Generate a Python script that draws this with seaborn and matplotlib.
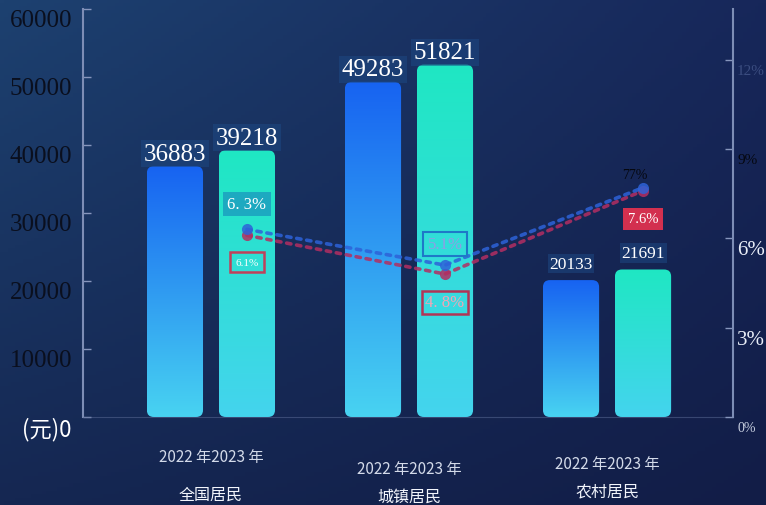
import numpy as np
import pandas as pd
import matplotlib
matplotlib.use("Agg")
import matplotlib.pyplot as plt
import matplotlib.transforms as mtransforms
from matplotlib.colors import LinearSegmentedColormap
from matplotlib.patches import FancyBboxPatch
import seaborn as sns

# data
categories = ["全国居民", "城镇居民", "农村居民"]
years = ["2022 年", "2023 年"]
income_2022 = [36883, 49283, 20133]
income_2023 = [39218, 51821, 21691]
nominal_growth = [6.3, 5.1, 7.7]
real_growth = [6.1, 4.8, 7.6]
nominal_labels = ["6. 3%", "5.1%", "77%"]
real_labels = ["6.1%", "4. 8%", "7.6%"]
left_ticks = [0, 10000, 20000, 30000, 40000, 50000, 60000]
left_tick_labels = ["(元)0", "10000", "20000", "30000", "40000", "50000", "60000"]
right_ticks = [0, 3, 6, 9, 12]
right_tick_labels = ["0%", "3%", "6%", "9%", "12%"]
year_caption = "2022 年2023 年"

df = pd.DataFrame({
    "group": categories * 2,
    "year": [years[0]] * 3 + [years[1]] * 3,
    "income": income_2022 + income_2023,
})

sns.set_style("white")
plt.rcParams["font.family"] = ["Liberation Serif", "Noto Sans CJK SC", "DejaVu Sans"]
cjk = ["Noto Sans CJK SC", "DejaVu Sans"]

W, H = 766, 506
fig = plt.figure(figsize=(W / 100, H / 100), dpi=100)

# background gradient
bg = fig.add_axes([0, 0, 1, 1], zorder=-1)
c_tl = np.array([0x1d, 0x41, 0x70]) / 255
c_tr = np.array([0x17, 0x27, 0x5a]) / 255
c_bl = np.array([0x15, 0x27, 0x52]) / 255
c_br = np.array([0x12, 0x1d, 0x47]) / 255
u = np.linspace(0, 1, 200)[None, :, None]
v = np.linspace(0, 1, 140)[:, None, None]
img = (1 - v) * ((1 - u) * c_tl + u * c_tr) + v * ((1 - u) * c_bl + u * c_br)
bg.imshow(img, aspect="auto", extent=[0, 1, 0, 1])
bg.axis("off")

ax = fig.add_axes([83 / W, 88 / H, 650 / W, 408 / H])
ax.set_facecolor("none")
sns.barplot(data=df, x="group", y="income", hue="year", order=categories,
            hue_order=years, width=0.727, gap=0.22, palette=["#1763f2", "#1fe7c3"],
            saturation=1, errorbar=None, legend=False, ax=ax)
xlim = (-0.646, 2.636)
ax.set_xlim(*xlim)
ax.set_ylim(0, 60000)

# gradient fill + rounded corners for each bar
fig.canvas.draw()
p0 = ax.transData.transform((0, 0))
p1 = ax.transData.transform((1, 1))
px_x, px_y = p1[0] - p0[0], p1[1] - p0[1]
aspect = px_x / px_y
grad_colors = [("#48d3f1", "#1763f2"), ("#44d4ee", "#1fe7c3")]
grad = np.linspace(0, 1, 256).reshape(-1, 1)
for h, container in enumerate(ax.containers):
    cmap = LinearSegmentedColormap.from_list(f"bar{h}", grad_colors[h])
    for patch in container.patches:
        x0, w, hgt = patch.get_x(), patch.get_width(), patch.get_height()
        patch.set_visible(False)
        clip = FancyBboxPatch((x0, 0), w, hgt, boxstyle="round,pad=0,rounding_size=0.035",
                              mutation_aspect=aspect, facecolor="none", edgecolor="none")
        ax.add_patch(clip)
        im = ax.imshow(grad, cmap=cmap, extent=[x0, x0 + w, 0, hgt], origin="lower",
                       aspect="auto", zorder=2)
        im.set_clip_path(clip)
ax.set_xlim(*xlim)
ax.set_ylim(0, 60000)

# value labels above bars
for h, container in enumerate(ax.containers):
    texts = ax.bar_label(container, labels=[str(int(v)) for v in container.datavalues],
                         padding=1, color="white", fontsize=18, zorder=3,
                         bbox=dict(boxstyle="square,pad=0.1", fc="#1d4a86", ec="none", alpha=0.5))
    texts[2].set_fontsize(12.5)
    texts[2].xyann = (0, 6)

# axes styling
ax.set_xticks([])
ax.set_xlabel("")
ax.set_ylabel("")
ax.set_yticks(left_ticks, left_tick_labels)
ax.tick_params(axis="y", direction="in", length=6, width=1, color="#8796bd", pad=8)
shift = mtransforms.ScaledTranslation(0, -9 / 100, fig.dpi_scale_trans)
for i, lbl in enumerate(ax.get_yticklabels()):
    lbl.set_transform(lbl.get_transform() + shift)
    lbl.set_fontsize(18)
    lbl.set_color("#0a0f1e")
    if i == 0:
        lbl.set_color("white")
        lbl.set_family(cjk)
        lbl.set_fontstyle("italic")
        lbl.set_fontsize(16)
for side in ["top", "right"]:
    ax.spines[side].set_visible(False)
ax.spines["left"].set_color("#7d8db5")
ax.spines["left"].set_linewidth(1.5)
ax.spines["bottom"].set_color("#5d6d98")
ax.spines["bottom"].set_alpha(0.5)

# growth-rate lines on the right axis
ax2 = ax.twinx()
x_line = [p.get_x() + p.get_width() / 2 for p in ax.containers[1].patches]
sns.lineplot(x=x_line, y=real_growth, ax=ax2, color="#b22e62", lw=2.6,
             linestyle=(0, (1.2, 1.6)), dash_capstyle="round", marker="o",
             markersize=8, markeredgewidth=0, alpha=0.85, zorder=4)
sns.lineplot(x=x_line, y=nominal_growth, ax=ax2, color="#2d62d8", lw=2.6,
             linestyle=(0, (1.2, 1.6)), dash_capstyle="round", marker="o",
             markersize=8, markeredgewidth=0, alpha=0.85, zorder=4)
ax2.set_xlim(*xlim)
ax2.set_ylim(0, 13.7)
ax2.set_xlabel("")
ax2.set_ylabel("")
ax2.set_yticks(right_ticks, right_tick_labels)
ax2.tick_params(axis="y", direction="in", length=6, width=1, color="#8796bd", pad=3)
right_styles = [(10, "#c9d1e2"), (15, "#e9eef8"), (15, "#e9eef8"), (11, "#05070f"), (11, "#3b4d80")]
for lbl, (fs, col) in zip(ax2.get_yticklabels(), right_styles):
    lbl.set_transform(lbl.get_transform() + shift)
    lbl.set_fontsize(fs)
    lbl.set_color(col)
for side in ["top", "left", "bottom"]:
    ax2.spines[side].set_visible(False)
ax2.spines["right"].set_color("#7d8db5")
ax2.spines["right"].set_linewidth(1.5)

# growth labels
nom_style = [
    dict(color="white", fontsize=12, bbox=dict(boxstyle="square,pad=0.25", fc="#1c9fbf", ec="none", alpha=0.85)),
    dict(color="#8f9ee6", fontsize=12, bbox=dict(boxstyle="square,pad=0.25", fc="none", ec="#1e78c8", lw=1.5)),
    dict(color="#05070f", fontsize=10),
]
nom_offset = [0.85, 0.7, 0.45]
real_style = [
    dict(color="white", fontsize=8, bbox=dict(boxstyle="square,pad=0.5", fc="none", ec="#c0405a", lw=1.8)),
    dict(color="#f2a4b6", fontsize=12, bbox=dict(boxstyle="square,pad=0.2", fc="none", ec="#b23456", lw=1.8)),
    dict(color="white", fontsize=10.5, bbox=dict(boxstyle="square,pad=0.3", fc="#d3304f", ec="none")),
]
real_offset = [-0.9, -0.95, -0.95]
for i in range(3):
    dx = -0.04 if i == 2 else 0
    ax2.text(x_line[i] + dx, nominal_growth[i] + nom_offset[i], nominal_labels[i],
             ha="center", va="center", zorder=5, **nom_style[i])
    ax2.text(x_line[i], real_growth[i] + real_offset[i], real_labels[i],
             ha="center", va="center", zorder=5, **real_style[i])

# category captions under each group
blend = mtransforms.blended_transform_factory(ax.transData, ax.transAxes)
year_y = [-0.098, -0.127, -0.115]
name_y = [-0.189, -0.194, -0.181]
for i, name in enumerate(categories):
    ax.text(i, year_y[i], year_caption, transform=blend, ha="center", va="center",
            fontsize=11, color="#d3dae9", family=cjk)
    ax.text(i, name_y[i], name, transform=blend, ha="center", va="center",
            fontsize=11.5, color="#f2f5fc", family=cjk)

fig.savefig("out.png", dpi=100)
